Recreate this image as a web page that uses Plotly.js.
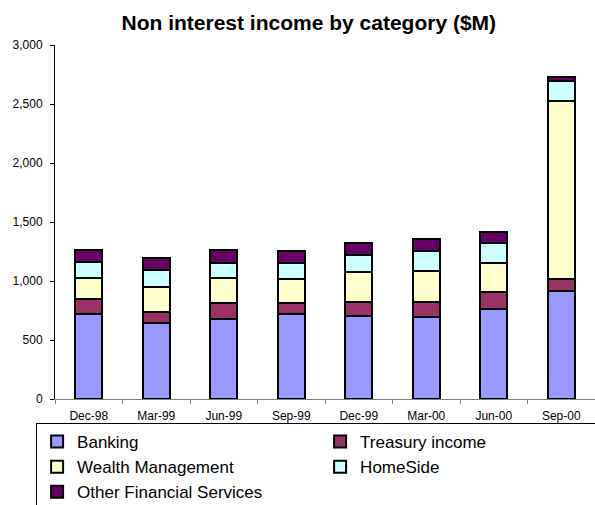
<!DOCTYPE html>
<html>
<head>
<meta charset="utf-8">
<script src="https://cdn.plot.ly/plotly-3.0.1.min.js"></script>
<style>html,body{margin:0;padding:0;background:#fff;}#chart{width:595px;height:505px;}</style>
</head>
<body>
<div id="chart"></div>
<script>
var categories = ['Dec-98','Mar-99','Jun-99','Sep-99','Dec-99','Mar-00','Jun-00','Sep-00'];
var banking   = [723, 644, 681, 723, 703, 697, 763, 918];
var treasury  = [124, 96, 135, 93, 122, 122, 141, 96];
var wealth    = [176, 209, 209, 204, 254, 268, 251, 1509];
var homeside  = [138, 142, 128, 133, 141, 167, 164, 174];
var other     = [102, 101, 107, 99, 105, 102, 99, 29];
var seriesNames = ['Banking','Treasury income','Wealth Management','HomeSide','Other Financial Services'];
var yTicks = [0, 500, 1000, 1500, 2000, 2500, 3000];

var colors = ['#9999FF','#993366','#FFFFCC','#CCFFFF','#660066'];
var values = [banking, treasury, wealth, homeside, other];
var FONT = 'Liberation Sans, Arial, sans-serif';

var data = values.map(function(v, i){
  return {
    type: 'bar', x: categories, y: v, name: seriesNames[i],
    marker: {color: colors[i], line: {color: '#000', width: 2}}
  };
});

var layout = {
  width: 595, height: 505,
  paper_bgcolor: '#fff', plot_bgcolor: '#fff',
  margin: {l: 55, r: 0, t: 45, b: 106, autoexpand: false},
  barmode: 'stack', bargap: 0.6,
  font: {family: FONT, color: '#000'},
  title: {text: '<b>Non interest income by category ($M)</b>', font: {family: FONT, size: 21, color: '#000'},
          x: 0.519, xref: 'container', xanchor: 'center', y: 0.955, yref: 'container', yanchor: 'middle'},
  xaxis: {type: 'category', tickson: 'boundaries', ticks: 'outside', ticklen: 4, tickcolor: '#808080',
          showline: true, linecolor: '#808080', linewidth: 1, showgrid: false, zeroline: false,
          tickfont: {family: FONT, size: 12, color: '#000'}, ticklabelstandoff: 6},
  yaxis: {range: [0, 3000], tickvals: yTicks, tickformat: ',', ticks: 'outside', ticklen: 4, tickcolor: '#000',
          showline: true, linecolor: '#000', linewidth: 1, showgrid: false, zeroline: false,
          tickfont: {family: FONT, size: 12, color: '#000'}, ticklabelstandoff: 5},
  showlegend: true,
  legend: {orientation: 'h', x: -0.035, xanchor: 'left', y: -0.068, yanchor: 'top',
           bordercolor: '#000', borderwidth: 1, bgcolor: '#fff', entrywidth: 238, traceorder: 'normal',
           font: {family: FONT, size: 17, color: '#000'}}
};

Plotly.newPlot('chart', data, layout, {displayModeBar: false, staticPlot: true});
</script>
</body>
</html>
